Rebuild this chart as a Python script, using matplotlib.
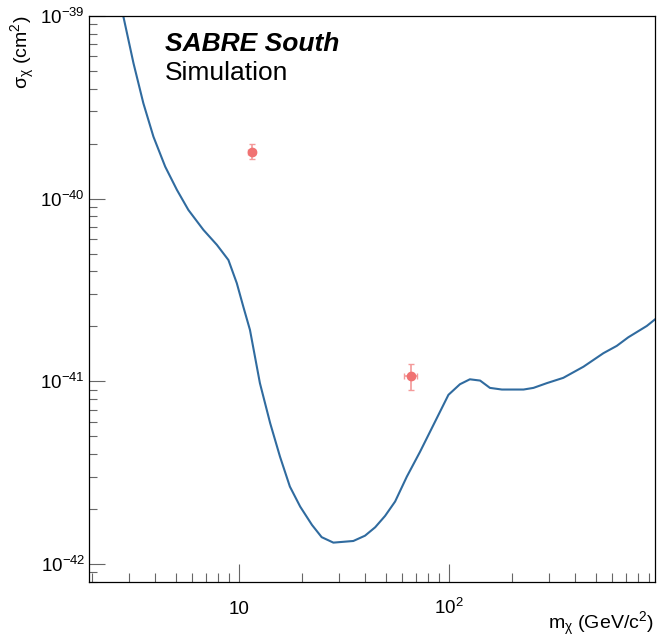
import matplotlib
matplotlib.use("Agg")
import matplotlib.pyplot as plt
import numpy as np
from matplotlib.ticker import FixedLocator, FixedFormatter, NullFormatter

plt.rcParams['font.family'] = ['Liberation Sans', 'DejaVu Sans']
plt.rcParams['mathtext.fontset'] = 'custom'
plt.rcParams['mathtext.rm'] = 'Liberation Sans'
plt.rcParams['mathtext.it'] = 'Liberation Sans:italic'

# exclusion curve (mass in GeV/c^2, cross section in cm^2)
mass = [2.82, 3.15, 3.51, 3.92, 4.46, 5.07, 5.75, 6.78, 7.86, 8.92, 9.78,
        10.5, 11.3, 12.6, 14.1, 15.7, 17.5, 19.6, 22.3, 24.8, 28.2, 35.1,
        39.9, 44.6, 49.7, 55.5, 63.1, 73.0, 86.0, 99.6, 113, 126, 141, 157,
        179, 227, 253, 293, 351, 438, 545, 631, 716, 877, 989]
log_sigma = [-39.004, -39.259, -39.478, -39.661, -39.825, -39.952, -40.062,
             -40.171, -40.253, -40.336, -40.463, -40.591, -40.719, -41.010,
             -41.229, -41.412, -41.576, -41.686, -41.786, -41.853, -41.883,
             -41.874, -41.845, -41.799, -41.737, -41.658, -41.522, -41.385,
             -41.221, -41.074, -41.016, -40.989, -40.996, -41.036, -41.045,
             -41.045, -41.036, -41.010, -40.981, -40.920, -40.846, -40.806,
             -40.759, -40.697, -40.649]
sigma = [10.0 ** v for v in log_sigma]

# signal points
pt_mass = [11.5, 65.9]
pt_mass_err = [0.5, 4.5]
pt_sigma = [1.81e-40, 1.07e-41]
pt_sigma_err = [0.17e-40, 0.17e-41]

fig = plt.figure(figsize=(6.59, 6.37), dpi=100)
ax = fig.add_axes([0.1355, 0.0868, 0.994 - 0.1355, 0.975 - 0.0868])

ax.plot(mass, sigma, color='#306b9f', lw=1.5)
ax.errorbar(pt_mass, pt_sigma, xerr=pt_mass_err, yerr=pt_sigma_err, fmt='o',
            color='#f07272', ms=6, ecolor='#f49a9a', elinewidth=1.2,
            capsize=2, capthick=1)

ax.set_xscale('log')
ax.set_yscale('log')
ax.set_xlim(1.94, 960)
ax.set_ylim(8e-43, 1e-39)

xmaj = [10, 100]
xmin = [m * 10 ** d for d in range(0, 3) for m in range(2, 10)]
ax.xaxis.set_major_locator(FixedLocator(xmaj))
ax.xaxis.set_major_formatter(FixedFormatter(['10', r'$\mathregular{10^{2}}$']))
ax.xaxis.set_minor_locator(FixedLocator(xmin))
ax.xaxis.set_minor_formatter(NullFormatter())

ymaj = [1e-42, 1e-41, 1e-40, 1e-39]
ymin = [m * 10.0 ** d for d in range(-43, -39) for m in range(2, 10)]
ax.yaxis.set_major_locator(FixedLocator(ymaj))
ax.yaxis.set_major_formatter(FixedFormatter([r'$\mathregular{10^{-42}}$',
                                             r'$\mathregular{10^{-41}}$',
                                             r'$\mathregular{10^{-40}}$',
                                             r'$\mathregular{10^{-39}}$']))
ax.yaxis.set_minor_locator(FixedLocator(ymin))
ax.yaxis.set_minor_formatter(NullFormatter())

ax.tick_params(axis='both', which='both', direction='in', top=False,
               right=False, color='#666666', labelsize=13.5)
ax.tick_params(axis='x', which='major', length=13, width=0.8, pad=23)
ax.tick_params(axis='x', which='minor', length=6.5, width=0.8)
ax.tick_params(axis='y', which='major', length=11.5, width=0.8, pad=3)
ax.tick_params(axis='y', which='minor', length=5.8, width=0.8)
for lab in ax.get_xticklabels():
    lab.set_verticalalignment('baseline')
for sp in ax.spines.values():
    sp.set_linewidth(0.9)

ax.set_xlabel(r'm$_{\mathregular{χ}}$ (GeV/c$^{\mathregular{2}}$)',
              fontsize=14, loc='right')
ax.xaxis.set_label_coords(0.998, -0.05)
ax.set_ylabel(r'σ$_{\mathregular{χ}}$ (cm$^{\mathregular{2}}$)',
              fontsize=14, loc='top')
ax.yaxis.set_label_coords(-0.092, 1.0)

ax.text(0.134, 0.938, 'SABRE South', transform=ax.transAxes, fontsize=19,
        fontweight='bold', fontstyle='italic', va='baseline')
ax.text(0.134, 0.886, 'Simulation', transform=ax.transAxes, fontsize=19,
        va='baseline')

fig.savefig('out.png', dpi=100)
